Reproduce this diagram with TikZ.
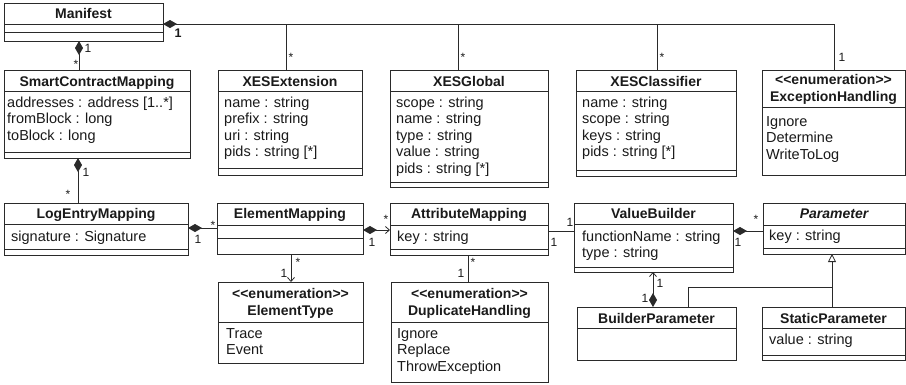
\documentclass[tikz,border=0pt]{standalone}
\usepackage{fontspec}
\setmainfont{Liberation Sans}[Ligatures=NoCommon]
\usetikzlibrary{arrows.meta}
\definecolor{lc}{HTML}{2A2A2A}
\definecolor{tc}{HTML}{1A1A1A}
\newcommand{\umlbox}[5]{\node[box, minimum width={#4-#2}, minimum height={#5-#3}] (#1) at ({(#2+#4)/2},{(#3+#5)/2}) {};}
\newcommand{\sepl}[2]{\draw[link] (#1.west |- 0,#2) -- (#1.east |- 0,#2);}
\newcommand{\ctitle}[4]{\node[ttl] (#1) at (#2,#3) {#4};}
\newcommand{\attr}[4]{\node[att] (#1) at (#2,#3) {#4};}
\newcommand{\mst}[3]{\node[mul] (#1) at (#2,{#3+6.5}) {*};}
\newcommand{\mon}[3]{\node[mul] (#1) at (#2,{#3+4.3}) {1};}
\newcommand{\enumst}{<{}<enumeration>{}>}
\begin{document}
\begin{tikzpicture}[x=1pt,y=-1pt,
  box/.style={draw=lc, line width=0.8pt, fill=white, rectangle, inner sep=0pt, outer sep=0pt},
  link/.style={draw=lc, line width=0.8pt},
  ttl/.style={font=\fontsize{14}{16}\selectfont\bfseries, anchor=base, inner sep=0pt, text=tc},
  att/.style={font=\fontsize{14.5}{16}\selectfont, anchor=base west, inner sep=0pt, text=tc},
  mul/.style={font=\fontsize{12}{14}\selectfont, anchor=base, inner sep=0pt, text=tc},
  comp/.style={link, {Diamond[length=14pt,width=8pt]}-},
  compnav/.style={link, {Diamond[length=14pt,width=8pt]}-{Straight Barb[length=4pt,width=7pt]}},
  nav/.style={link, -{Straight Barb[length=4pt,width=7pt]}},
  gen/.style={link, -{Triangle[open,length=8pt,width=8pt,fill=white]}}
]
\useasboundingbox (0,0) rectangle (906,384);

% ---------- boxes ----------
\umlbox{man}{4}{3}{163}{41}
\sepl{man}{24}\sepl{man}{32}
\ctitle{man-t}{83.5}{18}{Manifest}

\umlbox{scm}{4}{70}{190}{158}
\sepl{scm}{91}\sepl{scm}{152}
\ctitle{scm-t}{97}{86}{SmartContractMapping}
\attr{scm-a1}{7}{107}{addresses : address [1..*]}
\attr{scm-a2}{7}{123.5}{fromBlock : long}
\attr{scm-a3}{7}{140}{toBlock : long}

\umlbox{xext}{218}{70}{362}{175}
\sepl{xext}{91}\sepl{xext}{168}
\ctitle{xext-t}{290}{86}{XESExtension}
\attr{xext-a1}{224}{107}{name : string}
\attr{xext-a2}{224}{123.5}{prefix : string}
\attr{xext-a3}{224}{140}{uri : string}
\attr{xext-a4}{224}{156.5}{pids : string [*]}

\umlbox{xglob}{390}{70}{548}{187}
\sepl{xglob}{91}\sepl{xglob}{182}
\ctitle{xglob-t}{469}{86}{XESGlobal}
\attr{xglob-a1}{396}{107}{scope : string}
\attr{xglob-a2}{396}{123.5}{name : string}
\attr{xglob-a3}{396}{140}{type : string}
\attr{xglob-a4}{396}{156.5}{value : string}
\attr{xglob-a5}{396}{173}{pids : string [*]}

\umlbox{xcl}{576}{70}{736}{176}
\sepl{xcl}{91}\sepl{xcl}{170}
\ctitle{xcl-t}{656}{86}{XESClassifier}
\attr{xcl-a1}{582}{107}{name : string}
\attr{xcl-a2}{582}{123.5}{scope : string}
\attr{xcl-a3}{582}{140}{keys : string}
\attr{xcl-a4}{582}{156.5}{pids : string [*]}

\umlbox{ex}{762}{70}{905}{175}
\sepl{ex}{107}
\ctitle{ex-s}{833.5}{84.5}{\enumst}
\ctitle{ex-t}{833.5}{101}{ExceptionHandling}
\attr{ex-a1}{766}{126}{Ignore}
\attr{ex-a2}{766}{142.5}{Determine}
\attr{ex-a3}{766}{159}{WriteToLog}

\umlbox{lem}{4}{203}{188}{255}
\sepl{lem}{224}\sepl{lem}{249}
\ctitle{lem-t}{96}{218}{LogEntryMapping}
\attr{lem-a1}{11}{241}{signature : Signature}

\umlbox{em}{217}{203}{363}{254}
\sepl{em}{225}\sepl{em}{238}
\ctitle{em-t}{290}{218}{ElementMapping}

\umlbox{am}{390}{203}{548}{255}
\sepl{am}{225}\sepl{am}{249}
\ctitle{am-t}{469}{218}{AttributeMapping}
\attr{am-a1}{397}{241}{key : string}

\umlbox{vb}{574}{203}{733}{272}
\sepl{vb}{224}\sepl{vb}{267}
\ctitle{vb-t}{653.5}{218}{ValueBuilder}
\attr{vb-a1}{582}{241}{functionName : string}
\attr{vb-a2}{582}{257.5}{type : string}

\umlbox{par}{763}{203}{905}{254}
\sepl{par}{225}\sepl{par}{248}
\ctitle{par-t}{834}{218}{\itshape Parameter}
\attr{par-a1}{769}{240}{key : string}

\umlbox{et}{218}{282}{363}{363}
\sepl{et}{322}
\ctitle{et-s}{290.5}{298}{\enumst}
\ctitle{et-t}{290.5}{315}{ElementType}
\attr{et-a1}{226}{338}{Trace}
\attr{et-a2}{226}{354.5}{Event}

\umlbox{dh}{391}{282}{548}{382}
\sepl{dh}{322}
\ctitle{dh-s}{469.5}{298}{\enumst}
\ctitle{dh-t}{469.5}{315}{DuplicateHandling}
\attr{dh-a1}{397}{338}{Ignore}
\attr{dh-a2}{397}{354.5}{Replace}
\attr{dh-a3}{397}{371}{ThrowException}

\umlbox{bp}{577}{307}{736}{360}
\sepl{bp}{328}
\ctitle{bp-t}{656.5}{323}{BuilderParameter}

\umlbox{sp}{762}{307}{905}{360}
\sepl{sp}{328}\sepl{sp}{355}
\ctitle{sp-t}{833.5}{323}{StaticParameter}
\attr{sp-a1}{769}{344}{value : string}

% ---------- connectors ----------
\coordinate (busR) at (834,24);
\coordinate (b1) at (286,24);
\coordinate (b2) at (458,24);
\coordinate (b3) at (657,24);
\draw[comp] (man.east |- busR) -- (busR) -- (busR |- ex.north);
\draw[link] (b1) -- (b1 |- xext.north);
\draw[link] (b2) -- (b2 |- xglob.north);
\draw[link] (b3) -- (b3 |- xcl.north);

\coordinate (c1) at (79,0);
\draw[comp] (man.south -| c1) -- (scm.north -| c1);
\coordinate (c2) at (78,0);
\draw[comp] (scm.south -| c2) -- (lem.north -| c2);
\coordinate (c3) at (0,228);
\draw[comp] (lem.east |- c3) -- (em.west |- c3);
\coordinate (c4) at (0,230);
\draw[compnav] (em.east |- c4) -- (am.west |- c4);
\coordinate (c5) at (291,0);
\draw[nav] (em.south -| c5) -- (et.north -| c5);
\coordinate (c6) at (468,0);
\draw[link] (am.south -| c6) -- (dh.north -| c6);
\coordinate (c7) at (0,231);
\draw[link] (am.east |- c7) -- (vb.west |- c7);
\draw[comp] (vb.east |- c7) -- (par.west |- c7);
\coordinate (c8) at (653,0);
\draw[compnav] (bp.north -| c8) -- (vb.south -| c8);
\coordinate (g1) at (832,287);
\coordinate (g2) at (688,287);
\draw[gen] (sp.north -| g1) -- (par.south -| g1);
\draw[link] (bp.north -| g2) -- (g2) -- (g1);

% ---------- multiplicities ----------
\node[mul, font=\fontsize{12.5}{14}\selectfont\bfseries] (m0) at (178,{33+4.5}) {1};
\mst{m1}{291}{55}
\mst{m2}{463}{55}
\mst{m3}{662}{55}
\mon{m4}{842}{57}
\mon{m5}{88}{48}
\mst{m6}{76}{62}
\mon{m7}{86}{172}
\mst{m8}{68}{192}
\mst{m9}{213}{223}
\mon{m10}{198}{239}
\mst{m11}{386}{217}
\mon{m12}{372}{242}
\mst{m13}{298}{260}
\mon{m14}{284}{273}
\mst{m15}{473}{260}
\mon{m16}{461}{273}
\mon{m17}{554}{242}
\mon{m18}{570}{222}
\mon{m19}{738}{242}
\mst{m20}{756}{217}
\mon{m21}{660}{283}
\mon{m22}{645}{298}
\end{tikzpicture}
\end{document}
